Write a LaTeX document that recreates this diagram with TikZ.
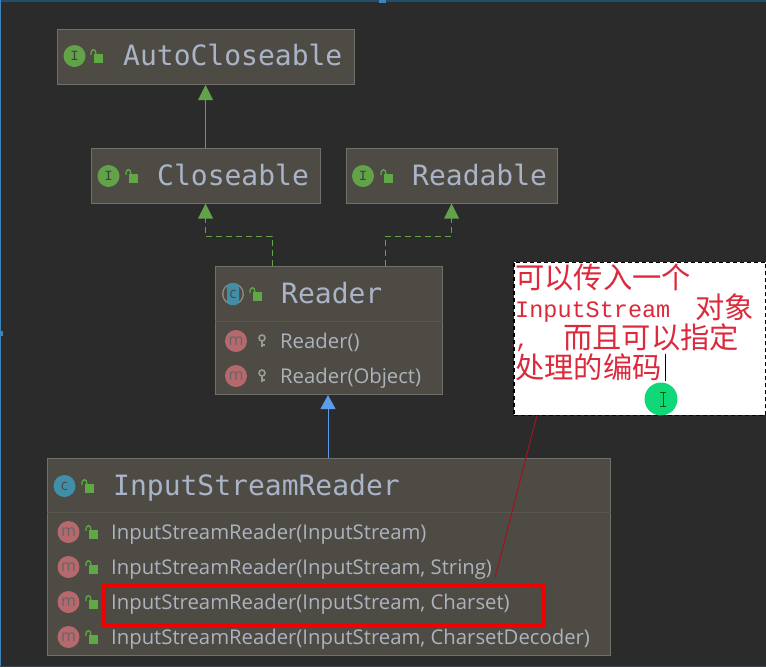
\documentclass[tikz,border=0pt]{standalone}
\usepackage{fontspec}
\usetikzlibrary{arrows.meta,calc}
\setmainfont{Open Sans}
\newfontfamily\titlefont{DejaVu Sans Mono}
\newfontfamily\cjk{Noto Sans CJK SC}
\newfontfamily\notemono{Liberation Mono}
\definecolor{bgc}{HTML}{2B2B2B}
\definecolor{boxc}{HTML}{4E4B44}
\definecolor{boxl}{HTML}{6F6F6B}
\definecolor{divl}{HTML}{5A574F}
\definecolor{txtc}{HTML}{A9B4C8}
\definecolor{memc}{HTML}{ADB3BE}
\definecolor{grn}{HTML}{62A34A}
\definecolor{lockg}{HTML}{5FA845}
\definecolor{blu}{HTML}{5C9CEB}
\definecolor{teal1}{HTML}{3F8FA8}
\definecolor{rose}{HTML}{B5696C}
\definecolor{keyg}{HTML}{9A9A96}
\definecolor{notered}{HTML}{DC2A3C}
\definecolor{topc}{HTML}{1F4F6E}
\definecolor{edgec}{HTML}{3E84B8}
\definecolor{hlred}{HTML}{F00000}
\definecolor{linered}{HTML}{A0141E}
\definecolor{cursorg}{HTML}{10D878}
\definecolor{ringc}{HTML}{8A8A86}
\definecolor{stripc}{HTML}{3A424E}
\tikzset{
  x=1pt,y=-1pt,
  umlbox/.style={draw=boxl,fill=boxc,line width=1pt,inner sep=0pt,anchor=north west},
  title/.style={font=\titlefont\fontsize{28}{28}\selectfont,text=txtc,anchor=base west,inner sep=0pt},
  member/.style={font=\fontsize{20.3}{20.3}\selectfont,text=memc,anchor=base west,inner sep=0pt},
  badge/.style={circle,minimum size=22pt,inner sep=0pt,font=\fontsize{13}{13}\selectfont},
  ibadge/.style={badge,fill=grn,text=black!75,font=\notemono\fontsize{14}{14}\selectfont},
  cbadge/.style={badge,fill=teal1,text=black!70,font=\fontsize{15}{15}\selectfont},
  mbadge/.style={badge,fill=rose,text=black!60,font=\fontsize{16}{16}\selectfont},
  notecn/.style={font=\cjk\fontsize{29.3}{29.3}\selectfont,text=notered,anchor=base west,inner sep=0pt},
  inherit/.style={line width=1pt,-{Triangle[length=14pt,width=15pt]}},
  lockpic/.pic={
    \fill[lockg] (-3,-3) rectangle (6,6);
    \draw[lockg,line width=1.3pt] (-6,-2) .. controls (-6.5,-9) and (-1,-9) .. (-1,-3);
  },
  keypic/.pic={
    \draw[keyg,line width=1.6pt] (0,-3) circle[radius=3pt];
    \draw[keyg,line width=2.4pt] (0,0) -- (0,6);
    \draw[keyg,line width=1.5pt] (0,4) -- (3,4);
  },
}
\begin{document}
\begin{tikzpicture}
\useasboundingbox (0,0) rectangle (766,667);
\fill[bgc] (0,0) rectangle (766,667);
\fill[topc] (0,0) rectangle (766,2);
\fill[edgec] (0,0) rectangle (1.2,667);
\fill[stripc] (0,665.5) rectangle (766,667);
\fill[edgec] (379,0) rectangle (386,3);
\fill[edgec] (0,331) rectangle (3,336);

% boxes
\node[umlbox,minimum width=297pt,minimum height=55pt] (auto) at (57,29) {};
\node[umlbox,minimum width=229pt,minimum height=55pt] (close) at (91,148) {};
\node[umlbox,minimum width=211pt,minimum height=55pt] (read) at (346,148) {};
\node[umlbox,minimum width=227pt,minimum height=128pt] (reader) at (215,266) {};
\node[umlbox,minimum width=563pt,minimum height=197pt] (isr) at (47,458) {};
\draw[divl,line width=1pt] (reader.west |- 0,321) -- (reader.east |- 0,321);
\draw[divl,line width=1pt] (isr.west |- 0,512) -- (isr.east |- 0,512);

% connector ends
\coordinate (rc) at (272,266);
\coordinate (rr) at (385,266);
\coordinate (cc) at (205.5,203.5);
\coordinate (rd) at (451.5,203.5);
\coordinate (cu) at (205.5,147.5);
\coordinate (au) at (205.5,85);
\coordinate (ru) at (328,395);
\coordinate (iu) at (328,458);

\draw[grn,line width=1.2pt] (cu) -- ($(au)+(0,10)$);
\fill[grn] (au) -- ++(7.5,15) -- ++(-15,0) -- cycle;
\draw[grn,line width=1pt,dash pattern=on 6pt off 4pt] (rc) -- (rc |- 0,236) -- (cc |- 0,236) -- ($(cc)+(0,12)$);
\draw[grn,line width=1pt,dash pattern=on 6pt off 4pt] (rr) -- (rr |- 0,236) -- (rd |- 0,236) -- ($(rd)+(0,12)$);
\fill[grn] (cc) -- ++(7.5,15) -- ++(-15,0) -- cycle;
\fill[grn] (rd) -- ++(7.5,15) -- ++(-15,0) -- cycle;
\draw[inherit,draw=blu,fill=blu] (iu) -- (ru);

% titles
\node[title] (t1) at (123,65.5) {AutoCloseable};
\node[title] (t2) at (157,185) {Closeable};
\node[title] (t3) at (412,185) {Readable};
\node[title] (t4) at (281,303.5) {Reader};
\node[title] (t5) at (113,495) {InputStreamReader};

% badges
\node[ibadge] (i1) at (74.5,56) {I};
\node[ibadge] (i2) at (108.5,176) {I};
\node[ibadge] (i3) at (363,176) {I};
\pic at (97,57) {lockpic};
\pic at (132,177) {lockpic};
\pic at (387,177) {lockpic};

\fill[ringc] (233,294) circle[radius=11pt];
\fill[boxc] (233,294) circle[radius=9.5pt];
\node[fill=teal1,text=black!70,font=\fontsize{15}{15}\selectfont,rounded corners=4pt,inner sep=0pt,minimum width=12pt,minimum height=22pt] (c1) at (233,294) {c};
\pic at (256,295) {lockpic};
\node[cbadge] (c2) at (64.5,486) {c};
\pic at (88,487) {lockpic};

\node[mbadge] (m1) at (236,341) {m};
\node[mbadge] (m2) at (236,376) {m};
\pic at (262,341) {keypic};
\pic at (262,376) {keypic};
\node[member] (r1) at (280,348) {Reader()};
\node[member] (r2) at (280,383) {Reader(Object)};

\node[mbadge] (m3) at (68.5,532) {m};
\node[mbadge] (m4) at (68.5,567) {m};
\node[mbadge] (m5) at (68.5,602) {m};
\node[mbadge] (m6) at (68.5,637) {m};
\pic at (92,533) {lockpic};
\pic at (92,568) {lockpic};
\pic at (92,603) {lockpic};
\pic at (92,638) {lockpic};
\node[member] (s1) at (111,539) {InputStreamReader(InputStream)};
\node[member] (s2) at (111,574) {InputStreamReader(InputStream, String)};
\node[member] (s3) at (111,609) {InputStreamReader(InputStream, Charset)};
\node[member] (s4) at (111,644) {InputStreamReader(InputStream, CharsetDecoder)};

% red highlight
\node[draw=hlred,line width=4pt,inner sep=0pt,anchor=north west,minimum width=440pt,minimum height=40pt] (hl) at (102,584) {};

% note
\node[fill=white,draw=black,line width=1.5pt,dash pattern=on 4pt off 3pt,inner sep=0pt,anchor=north west,minimum width=252pt,minimum height=153pt] (note) at (513,261.5) {};
\node[notecn] (n1) at (515,288) {可以传入一个};
\node[notecn,font=\notemono\fontsize{23.5}{23.5}\selectfont] (n2) at (515,317) {InputStream};
\node[notecn] (n2b) at (695,318) {对象};
\node[notecn,font=\notemono\fontsize{23.5}{23.5}\selectfont] (n3) at (515,347) {,};
\node[notecn] (n3b) at (563,348) {而且可以指定};
\node[notecn] (n4) at (515,378) {处理的编码};
\draw[black,line width=1pt] (665,354) -- (665,381);
\coordinate (lnA) at (537,415);
\coordinate (lnB) at (495,578);
\draw[linered,line width=1pt] (lnA) -- (lnB);

% cursor
\fill[cursorg] (661,399) circle[radius=16.5pt];
\draw[black!60!green,line width=1pt] (663,392) -- (663,406) (660,392) -- (666,392) (660,406) -- (666,406);
\end{tikzpicture}
\end{document}
